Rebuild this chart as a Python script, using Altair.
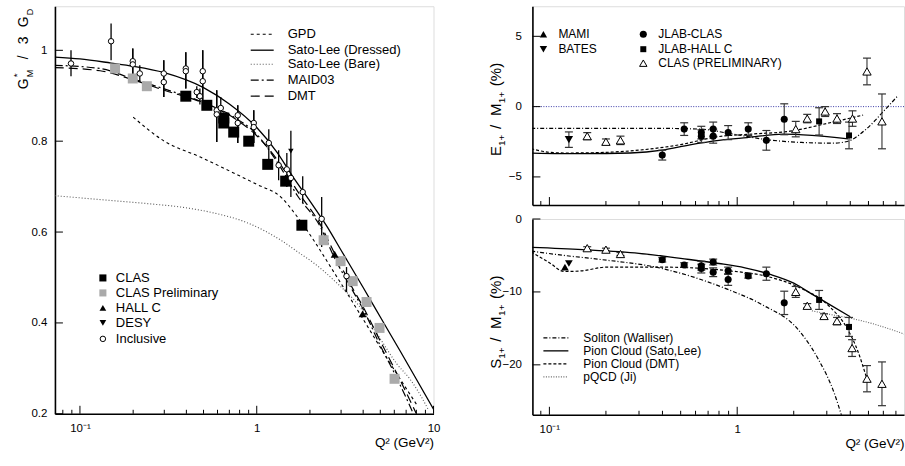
import altair as alt
import pandas as pd

FONT = "Liberation Sans"

# ===================== LEFT PANEL: G*_M / 3 G_D =====================
gpd_q = [0.2, 0.3, 0.48, 0.74, 1.0, 1.37, 1.7, 2.1, 2.62, 3.9, 5.5, 8.1]
gpd_g = [0.853, 0.80, 0.765, 0.730, 0.705, 0.677, 0.633, 0.582, 0.523, 0.415, 0.32, 0.218]

sld_q = [0.072, 0.1, 0.15, 0.2, 0.3, 0.5, 0.7, 1.0, 1.3, 1.6, 2.0, 2.5, 3.0, 4.0, 5.0, 6.5, 8.0, 10.0]
sld_g = [0.985, 0.981, 0.972, 0.965, 0.951, 0.918, 0.882, 0.830, 0.776, 0.722, 0.668, 0.612,
         0.56, 0.478, 0.413, 0.337, 0.276, 0.21]

slb_q = [0.072, 0.144, 0.25, 0.372, 0.572, 0.89, 1.37, 1.77, 2.1, 2.8, 3.87, 5.0, 6.2, 7.4, 8.6, 9.4]
slb_g = [0.680, 0.670, 0.662, 0.655, 0.642, 0.620, 0.582, 0.552, 0.532, 0.49, 0.433, 0.365,
         0.31, 0.275, 0.235, 0.207]

maid_q = [0.072, 0.13, 0.2, 0.3, 0.5, 0.75, 1.0, 1.3, 1.7, 2.3, 2.7, 3.5, 4.0, 5.0, 6.0, 7.7]
maid_g = [0.967, 0.960, 0.937, 0.915, 0.885, 0.852, 0.815, 0.755, 0.68, 0.61, 0.55, 0.47,
          0.43, 0.35, 0.29, 0.20]

dmt_q = [0.072, 0.13, 0.2, 0.3, 0.5, 0.75, 1.0, 1.3, 1.7, 2.3, 2.7, 3.5, 4.0, 5.0, 6.0, 8.0]
dmt_g = [0.962, 0.955, 0.935, 0.912, 0.884, 0.85, 0.812, 0.76, 0.69, 0.615, 0.56, 0.475,
         0.435, 0.36, 0.30, 0.20]

clas_q = [0.397, 0.522, 0.651, 0.651, 0.741, 0.901, 1.154, 1.458, 1.80]
clas_g = [0.899, 0.879, 0.851, 0.840, 0.820, 0.800, 0.749, 0.712, 0.615]

clasp_q = [0.158, 0.199, 0.239, 2.39, 2.98, 3.49, 4.18, 4.95, 6.02]
clasp_g = [0.960, 0.938, 0.921, 0.582, 0.536, 0.492, 0.446, 0.389, 0.277]

hallc_q = [2.76, 3.97]
hallc_g = [0.551, 0.420]

desy_q = [1.56]
desy_g = [0.778]
desy_lo = [0.677]
desy_hi = [0.823]

incl_q = [0.089, 0.150, 0.199, 0.199, 0.218, 0.298, 0.298, 0.397, 0.397, 0.458, 0.477, 0.495,
          0.495, 0.594, 0.594, 0.626, 0.781, 0.781, 0.962, 0.962, 1.17, 1.33, 1.48, 1.56,
          1.82, 2.33, 3.22]
incl_g = [0.971, 1.020, 0.976, 0.969, 0.949, 0.949, 0.930, 0.960, 0.954, 0.908, 0.899, 0.954,
          0.932, 0.868, 0.859, 0.873, 0.857, 0.840, 0.840, 0.831, 0.796, 0.747, 0.738, 0.719,
          0.688, 0.629, 0.503]
incl_lo = [0.943, 0.978, 0.938, 0.938, 0.930, 0.897, 0.897, 0.916, 0.916, 0.895, 0.881, 0.890,
           0.890, 0.798, 0.798, 0.840, 0.796, 0.796, 0.796, 0.796, 0.754, 0.714, 0.699, 0.712,
           0.664, 0.567, 0.468]
incl_hi = [1.000, 1.059, 1.004, 1.004, 0.967, 0.978, 0.978, 0.996, 0.996, 0.921, 0.916, 1.000,
           1.000, 0.912, 0.912, 0.897, 0.879, 0.879, 0.868, 0.868, 0.826, 0.780, 0.774, 0.726,
           0.723, 0.677, 0.523]

left_curve_labels = ["GPD", "Sato-Lee (Dressed)", "Sato-Lee (Bare)", "MAID03", "DMT"]
left_point_labels = ["CLAS", "CLAS Preliminary", "HALL C", "DESY", "Inclusive"]

# ===================== RIGHT TOP: E1+/M1+ =====================
e_sl_q = [0.08, 0.15, 0.27, 0.4, 0.56, 0.8, 1.13, 1.76, 2.5, 3.9]
e_sl_v = [-3.3, -3.35, -3.3, -3.1, -2.72, -2.4, -2.2, -1.96, -2.05, -2.3]

e_dmt_q = [0.08, 0.1, 0.12, 0.17, 0.27, 0.5, 0.78, 1.2, 1.91, 3.0, 4.68]
e_dmt_v = [-3.0, -3.25, -3.3, -3.28, -3.15, -2.7, -2.15, -1.95, -1.75, -1.2, -0.6]

e_sol_q = [0.08, 0.2, 0.4, 0.64, 0.9, 1.44, 2.2, 3.24, 3.85, 4.91, 6.0, 7.1]
e_sol_v = [-1.55, -1.55, -1.55, -1.6, -1.9, -2.35, -2.55, -2.6, -2.48, -1.55, -0.35, 0.71]

zero_line = [0.0]

e_clas_q = [0.399, 0.522, 0.644, 0.644, 0.745, 0.745, 0.895, 1.145, 1.43, 1.78]
e_clas_v = [-3.45, -1.6, -1.85, -2.1, -1.6, -2.1, -1.85, -1.6, -2.4, -0.9]
e_clas_err = [0.35, 0.45, 0.45, 0.45, 0.5, 0.5, 0.5, 0.45, 0.7, 1.1]

e_hallc_q = [2.73, 3.94]
e_hallc_v = [-1.05, -2.05]
e_hallc_err = [0.97, 0.95]

e_prel_q = [0.159, 0.200, 0.239, 2.05, 2.36, 2.94, 3.40, 4.11, 4.91, 5.90]
e_prel_v = [-2.1, -2.5, -2.4, -1.6, -0.85, -0.35, -0.85, -0.85, 2.5, -1.05]
e_prel_err = [0.25, 0.2, 0.3, 0.55, 0.3, 0.35, 0.35, 0.55, 0.95, 1.95]

e_bates_q = [0.127]
e_bates_v = [-2.35]
e_bates_err = [0.55]

top_legend_left = ["MAMI", "BATES"]
top_legend_right = ["JLAB-CLAS", "JLAB-HALL C", "CLAS (PRELIMINARY)"]

# ===================== RIGHT BOTTOM: S1+/M1+ =====================
s_sl_q = [0.08, 0.15, 0.3, 0.5, 0.8, 1.1, 1.5, 2.0, 2.5, 3.0, 4.0]
s_sl_v = [-3.9, -4.2, -4.7, -5.4, -6.1, -6.7, -7.6, -8.8, -10.3, -11.5, -13.4]

s_dmt_q = [0.08, 0.1, 0.12, 0.15, 0.2, 0.4, 0.9, 1.4, 2.1, 3.1, 3.85, 4.4, 4.9]
s_dmt_v = [-4.5, -6.0, -7.2, -7.1, -6.6, -6.6, -7.1, -7.8, -9.3, -12.0, -15.0, -18.2, -21.9]

s_sol_q = [0.08, 0.12, 0.18, 0.4, 0.9, 1.37, 2.1, 2.7, 3.3, 3.6]
s_sol_v = [-4.4, -5.0, -5.5, -6.8, -9.7, -11.8, -15.1, -19.2, -24.0, -27.0]

s_pqcd_q = [2.5, 3.3, 4.0, 5.5, 7.8]
s_pqcd_v = [-12.6, -13.2, -13.6, -14.5, -15.8]

s_clas_q = [0.399, 0.522, 0.644, 0.644, 0.745, 0.745, 0.895, 0.895, 1.145, 1.43, 1.78]
s_clas_v = [-5.6, -6.3, -6.4, -6.8, -5.9, -7.3, -7.1, -8.3, -7.8, -7.5, -11.5]
s_clas_err = [0.3, 0.3, 0.6, 0.6, 0.4, 0.6, 0.5, 0.8, 0.3, 0.9, 1.6]

s_hallc_q = [2.73, 3.94]
s_hallc_v = [-11.1, -14.8]
s_hallc_err = [1.3, 1.3]

s_prel_q = [0.159, 0.200, 0.239, 2.05, 2.36, 2.90, 3.40, 4.09, 4.91, 5.90]
s_prel_v = [-4.0, -4.2, -4.8, -10.0, -11.9, -13.3, -14.0, -17.7, -21.9, -22.6]
s_prel_err = [0.2, 0.2, 0.2, 0.75, 0.3, 0.3, 0.5, 1.15, 1.8, 3.0]

s_bates_q = [0.127]
s_bates_v = [-6.1]
s_mami_q = [0.121]
s_mami_v = [-6.6]

bottom_legend = ["Soliton (Walliser)", "Pion Cloud (Sato,Lee)", "Pion Cloud (DMT)", "pQCD (Ji)"]

# ===================== tick positions =====================
xl_major = [0.1, 1.0, 10.0]
xl_minor = [0.08, 0.09, 0.2, 0.3, 0.4, 0.5, 0.6, 0.7, 0.8, 0.9, 2, 3, 4, 5, 6, 7, 8, 9]
yl_major = [0.2, 0.4, 0.6, 0.8, 1.0]
xr_major = [0.1, 1.0]
xr_minor = [0.09, 0.2, 0.3, 0.4, 0.5, 0.6, 0.7, 0.8, 0.9, 2, 3, 4, 5, 6, 7]
yt_major = [-5, 0, 5]
yb_major = [-20, -10, 0]

# ===================== layout =====================
LW, LH = 379, 408
RW, RTH, RBH = 372, 199, 196
XL_DOM = [0.0722, 10.0]
YL_DOM = [0.2, 1.097]
XR_DOM = [0.0812, 7.73]
YT_DOM = [-7.0, 7.14]
YB_DOM = [-26.85, 0.0]

dummy = pd.DataFrame({"k": [0]})


def lab_axis(**kw):
    base = dict(ticks=False, grid=False, domainColor="black", domainWidth=1.6,
                labelFont=FONT, labelFontSize=11.5, labelColor="black", labelFlush=False,
                labelOverlap=False, titleFont=FONT, titleFontSize=13.5,
                titleFontWeight="normal", titleColor="black")
    base.update(kw)
    return alt.Axis(**base)


ax_xl = lab_axis(values=xl_major,
                 labelExpr="datum.value < 0.5 ? '10⁻¹' : (datum.value < 5 ? '1' : '10')",
                 labelPadding=9, title="Q² (GeV²)", titleAnchor="end", titleAlign="right",
                 titleBaseline="alphabetic", titleX=LW, titleY=33)
ax_yl = lab_axis(values=yl_major,
                 labelExpr="datum.value > 0.95 ? '1' : format(datum.value, '.1f')",
                 labelPadding=8, title=None)
ax_xrt = lab_axis(values=xr_major, labels=False, title=None)
ax_xrb = lab_axis(values=xr_major, labelExpr="datum.value < 0.5 ? '10⁻¹' : '1'",
                  labelPadding=9, title="Q² (GeV²)", titleAnchor="end", titleAlign="right",
                  titleBaseline="alphabetic", titleX=RW, titleY=33)
ax_yrt = lab_axis(values=yt_major, labelPadding=11, title=None)
ax_yrb = lab_axis(values=yb_major, labelPadding=11, title=None)


def make_enc(dom_x, dom_y, axx, axy):
    def X(f="q"):
        return alt.X(f"{f}:Q", scale=alt.Scale(type="log", domain=dom_x, nice=False), axis=axx)

    def Y(f="v"):
        return alt.Y(f"{f}:Q", scale=alt.Scale(domain=dom_y, zero=False, nice=False), axis=axy)
    return X, Y


def curve(X, Y, q, v, dash=None, color="black", width=1.2):
    kw = dict(color=color, strokeWidth=width, clip=True, interpolate="monotone")
    if dash:
        kw["strokeDash"] = dash
    return alt.Chart(pd.DataFrame({"q": q, "v": v})).mark_line(**kw).encode(x=X(), y=Y())


def errbars(X, Y, q, lo, hi, color="black", width=1.3, cap=0):
    d = pd.DataFrame({"q": q, "lo": lo, "hi": hi})
    layers = [alt.Chart(d).mark_rule(color=color, strokeWidth=width).encode(
        x=X(), y=Y("lo"), y2=alt.Y2("hi"))]
    if cap:
        for f in ("lo", "hi"):
            layers.append(alt.Chart(d).mark_tick(orient="horizontal", size=cap, thickness=1.2,
                                                 color=color, opacity=1).encode(x=X(), y=Y(f)))
    return layers


def pts(X, Y, q, v, shape, size, fill="black", stroke=None, sw=1.0):
    kw = dict(shape=shape, size=size, filled=True, fill=fill, opacity=1)
    if stroke:
        kw["stroke"] = stroke
        kw["strokeWidth"] = sw
    else:
        kw["strokeWidth"] = 0
    return alt.Chart(pd.DataFrame({"q": q, "v": v})).mark_point(**kw).encode(x=X(), y=Y())


def xticks(X, vals, h, length):
    return alt.Chart(pd.DataFrame({"q": vals})).mark_rule(color="black", strokeWidth=1).encode(
        x=X(), y=alt.value(h), y2=alt.value(h - length))


def yticks(Y, vals, length):
    return alt.Chart(pd.DataFrame({"v": vals})).mark_rule(color="black", strokeWidth=1).encode(
        y=Y(), x=alt.value(0), x2=alt.value(length))


def txt(s, x, y, size=12, angle=0, align="left", baseline="middle"):
    return alt.Chart(dummy).mark_text(text=s, font=FONT, fontSize=size, align=align,
                                      baseline=baseline, angle=angle, color="black").encode(
        x=alt.value(x), y=alt.value(y))


def sample_line(x1, x2, y, dash=None, color="black", width=1.2):
    kw = dict(color=color, strokeWidth=width)
    if dash:
        kw["strokeDash"] = dash
    return alt.Chart(dummy).mark_rule(**kw).encode(x=alt.value(x1), x2=alt.value(x2), y=alt.value(y))


def marker(x, y, shape, size, fill="black", stroke=None):
    kw = dict(shape=shape, size=size, filled=True, fill=fill, opacity=1)
    if stroke:
        kw["stroke"] = stroke
        kw["strokeWidth"] = 1
    else:
        kw["strokeWidth"] = 0
    return alt.Chart(dummy).mark_point(**kw).encode(x=alt.value(x), y=alt.value(y))


def ratio_title(letter):
    # rotated "X1+ / M1+ (%)" built from pieces (reads bottom to top)
    out = []
    r = lambda s, x, y, fs: txt(s, x, y, fs, 270, "left", "alphabetic")
    out.append(r(letter, -31, 150, 15))
    out.append(r("1+", -27, 140, 10))
    out.append(r("/", -31, 123, 15))
    out.append(r("M", -31, 110, 15))
    out.append(r("1+", -27, 97, 10))
    out.append(r("(%)", -31, 80, 15))
    return out


# ---------------- LEFT ----------------
XL, YL = make_enc(XL_DOM, YL_DOM, ax_xl, ax_yl)
left_styles = [([3, 3], "black", 1.1), (None, "black", 1.3), ([1, 2], "#555555", 1.1),
               ([8, 3, 2, 3], "black", 1.2), ([9, 5], "black", 1.2)]
left_curves = [(gpd_q, gpd_g), (sld_q, sld_g), (slb_q, slb_g), (maid_q, maid_g), (dmt_q, dmt_g)]

L = []
L.append(alt.Chart(dummy).mark_rule(strokeOpacity=0, color="white").encode(
    x=alt.value(-54), x2=alt.value(-54), y=alt.value(-5), y2=alt.value(0)))
for (q, v), (d, c, w) in zip(left_curves, left_styles):
    L.append(curve(XL, YL, q, v, d, c, w))
L += errbars(XL, YL, incl_q, incl_lo, incl_hi)
L += errbars(XL, YL, desy_q, desy_lo, desy_hi)
L.append(pts(XL, YL, clasp_q, clasp_g, "square", 100, fill="#aaaaaa"))
L.append(pts(XL, YL, clas_q, clas_g, "square", 121))
L.append(pts(XL, YL, hallc_q, hallc_g, "triangle-up", 64))
L.append(pts(XL, YL, desy_q, desy_g, "triangle-down", 30))
L.append(pts(XL, YL, incl_q, incl_g, "circle", 30, fill="white", stroke="black"))
L.append(xticks(XL, xl_major, LH, 8))
L.append(xticks(XL, xl_minor, LH, 4))
L.append(yticks(YL, yl_major, 8))
for i, (lab, (d, c, w)) in enumerate(zip(left_curve_labels, left_styles)):
    yy = [28, 44, 58, 74, 90][i]
    L.append(sample_line(196, 219, yy, d, c, w))
    L.append(txt(lab, 233, yy, 13))
leg_marks = [("square", 50, "black", None), ("square", 50, "#aaaaaa", None),
             ("triangle-up", 45, "black", None), ("triangle-down", 45, "black", None),
             ("circle", 30, "white", "black")]
for i, (lab, (sh, sz, fl, st)) in enumerate(zip(left_point_labels, leg_marks)):
    yy = [272, 287, 302, 317, 333][i]
    L.append(marker(48, yy, sh, sz, fl, st))
    L.append(txt(lab, 61, yy, 13))
L.append(txt("G", -27, 83, 14, 270, "left", "alphabetic"))
L.append(txt("*", -35, 71, 10, 270, "left", "alphabetic"))
L.append(txt("M", -22, 71, 9, 270, "left", "alphabetic"))
L.append(txt("/", -27, 53, 14, 270, "left", "alphabetic"))
L.append(txt("3", -27, 38, 14, 270, "left", "alphabetic"))
L.append(txt("G", -27, 21, 14, 270, "left", "alphabetic"))
L.append(txt("D", -22, 9, 9, 270, "left", "alphabetic"))

left = alt.layer(*L).properties(width=LW, height=LH)

# ---------------- RIGHT TOP ----------------
XT, YT = make_enc(XR_DOM, YT_DOM, ax_xrt, ax_yrt)
T = []
T.append(alt.Chart(pd.DataFrame({"v": zero_line})).mark_rule(
    color="#3a3aa8", strokeDash=[1, 1.5], strokeWidth=1).encode(y=YT()))
T.append(curve(XT, YT, e_sol_q, e_sol_v, [4, 2, 1, 2]))
T.append(curve(XT, YT, e_sl_q, e_sl_v, None, "black", 1.3))
T.append(curve(XT, YT, e_dmt_q, e_dmt_v, [3, 2]))


def lohi(v, e):
    return [a - b for a, b in zip(v, e)], [a + b for a, b in zip(v, e)]


for q, v, e in [(e_clas_q, e_clas_v, e_clas_err), (e_hallc_q, e_hallc_v, e_hallc_err),
                (e_prel_q, e_prel_v, e_prel_err), (e_bates_q, e_bates_v, e_bates_err)]:
    lo, hi = lohi(v, e)
    T += errbars(XT, YT, q, lo, hi, color="#333333", width=1.1, cap=8)
T.append(pts(XT, YT, e_clas_q, e_clas_v, "circle", 50))
T.append(pts(XT, YT, e_hallc_q, e_hallc_v, "square", 36))
T.append(pts(XT, YT, e_prel_q, e_prel_v, "triangle-up", 70, fill="white", stroke="black"))
T.append(pts(XT, YT, e_bates_q, e_bates_v, "triangle-down", 70))
T.append(xticks(XT, xr_major, RTH, 8))
T.append(xticks(XT, xr_minor, RTH, 4))
T.append(yticks(YT, yt_major, 8))
T.append(marker(11, 28, "triangle-up", 55))
T.append(txt(top_legend_left[0], 26, 28, 12))
T.append(marker(11, 43, "triangle-down", 55))
T.append(txt(top_legend_left[1], 26, 43, 12))
T.append(marker(111, 28, "circle", 50))
T.append(txt(top_legend_right[0], 126, 28, 12))
T.append(marker(111, 43, "square", 36))
T.append(txt(top_legend_right[1], 126, 43, 12))
T.append(marker(111, 57, "triangle-up", 55, "white", "black"))
T.append(txt(top_legend_right[2], 126, 57, 12))
T += ratio_title("E")
top = alt.layer(*T).properties(width=RW, height=RTH)

# ---------------- RIGHT BOTTOM ----------------
XB, YB = make_enc(XR_DOM, YB_DOM, ax_xrb, ax_yrb)
bottom_styles = [([4, 2, 1, 2], "black", 1.2), (None, "black", 1.3), ([3, 2], "black", 1.2),
                 ([1, 1.5], "#666666", 1.1)]
bottom_curves = [(s_sol_q, s_sol_v), (s_sl_q, s_sl_v), (s_dmt_q, s_dmt_v), (s_pqcd_q, s_pqcd_v)]
B = []
for (q, v), (d, c, w) in zip(bottom_curves, bottom_styles):
    B.append(curve(XB, YB, q, v, d, c, w))
for q, v, e in [(s_clas_q, s_clas_v, s_clas_err), (s_hallc_q, s_hallc_v, s_hallc_err),
                (s_prel_q, s_prel_v, s_prel_err)]:
    lo, hi = lohi(v, e)
    B += errbars(XB, YB, q, lo, hi, color="#333333", width=1.1, cap=8)
B.append(pts(XB, YB, s_clas_q, s_clas_v, "circle", 50))
B.append(pts(XB, YB, s_hallc_q, s_hallc_v, "square", 36))
B.append(pts(XB, YB, s_prel_q, s_prel_v, "triangle-up", 70, fill="white", stroke="black"))
B.append(pts(XB, YB, s_mami_q, s_mami_v, "triangle-up", 60))
B.append(pts(XB, YB, s_bates_q, s_bates_v, "triangle-down", 60))
B.append(xticks(XB, xr_major, RBH, 8))
B.append(xticks(XB, xr_minor, RBH, 4))
B.append(yticks(YB, yb_major, 8))
for i, (lab, (d, c, w)) in enumerate(zip(bottom_legend, bottom_styles)):
    yy = [119, 132, 145, 158][i]
    B.append(sample_line(11, 36, yy, d, c, w))
    B.append(txt(lab, 51, yy, 12))
B += ratio_title("S")
bottom = alt.layer(*B).properties(width=RW, height=RBH)

right = alt.vconcat(top, bottom, spacing=14, bounds="flush")
chart = alt.hconcat(left, right, spacing=99, bounds="flush").properties(
    padding=0).configure_view(stroke="black", strokeWidth=1).configure(font=FONT)

chart.save("out.html", embed_options={"renderer": "svg", "actions": False})
